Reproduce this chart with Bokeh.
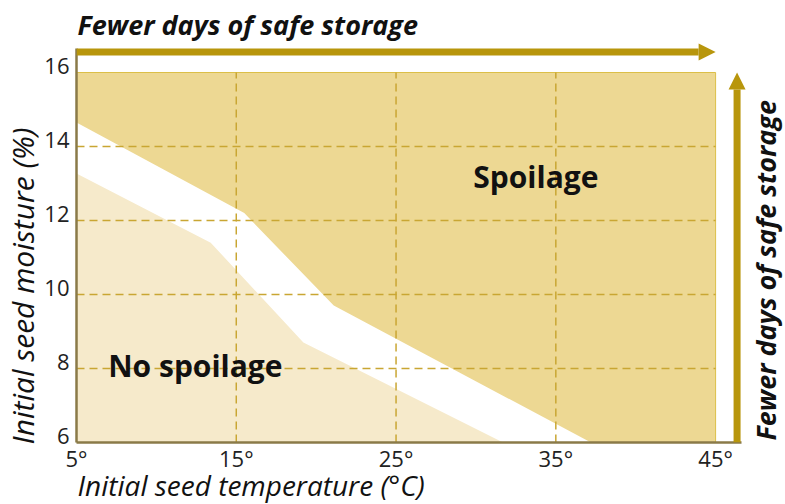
from bokeh.plotting import figure
from bokeh.models import (Range1d, FixedTicker, Label, Title, Arrow, NormalHead)
from bokeh.embed import file_html
from bokeh.resources import INLINE
import math

# ---- data ----
x_ticks = [5, 15, 25, 35, 45]
x_tick_labels = ["5°", "15°", "25°", "35°", "45°"]
y_ticks = [6, 8, 10, 12, 14, 16]

# upper edge of the safe band (spoilage above)
upper_temp = [5, 15.5, 21.1, 37.2]
upper_moist = [14.65, 12.2, 9.7, 6.0]
# upper edge of the no-spoilage region
lower_temp = [5, 13.4, 19.2, 31.7]
lower_moist = [13.27, 11.4, 8.7, 6.0]

x_lo, x_hi = 5, 45
y_lo, y_hi = 6, 16

FONT = "Open Sans"
DARK = "#edd893"
LIGHT = "#f6eacb"
GOLD = "#b8960c"
GRID = "#c9a633"
SPINE = "#8a7a48"
TEXT = "#111111"

PX_X = 16.0   # px per degree
PX_Y = 37.0   # px per % moisture
X_END = x_lo + 710 / PX_X
Y_END = y_hi + 72 / PX_Y          # frame reaches the top of the canvas
Y_SPINE_TOP = y_hi + 24 / PX_Y
LAB_SHIFT = 7 / PX_Y

p = figure(width=785, height=504, output_backend="svg", toolbar_location=None,
           x_range=Range1d(x_lo, X_END), y_range=Range1d(y_lo, Y_END),
           min_border_left=75, min_border_right=0, min_border_top=0,
           min_border_bottom=62)
p.extra_y_ranges = {"lab": Range1d(y_lo - LAB_SHIFT, Y_END - LAB_SHIFT)}
p.outline_line_color = None
p.xgrid.visible = False
p.ygrid.visible = False
p.background_fill_color = "white"
p.border_fill_color = "white"

# regions
p.quad(left=[x_lo], right=[x_hi], bottom=[y_lo], top=[y_hi],
       fill_color=DARK, line_color="#dcbf48", line_width=1)
p.patch(upper_temp + [x_lo], upper_moist + [y_lo], fill_color="white", line_color=None)
p.patch(lower_temp + [x_lo], lower_moist + [y_lo], fill_color=LIGHT, line_color=None)

# dashed grid lines
gx = x_ticks[1:-1]
gy = y_ticks[1:-1]
p.segment(x0=gx, y0=[y_lo] * len(gx), x1=gx, y1=[y_hi] * len(gx),
          line_color=GRID, line_width=1.5, line_dash="8 5")
p.segment(x0=[x_lo] * len(gy), y0=gy, x1=[x_hi] * len(gy), y1=gy,
          line_color=GRID, line_width=1.5, line_dash="8 5")

# axes
p.xaxis.ticker = FixedTicker(ticks=x_ticks)
p.xaxis.major_label_overrides = dict(zip(x_ticks, x_tick_labels))
p.xaxis.bounds = (x_lo, x_lo + 666 / PX_X)
p.yaxis.y_range_name = "lab"
p.yaxis.ticker = FixedTicker(ticks=y_ticks)
p.yaxis.bounds = (y_lo - LAB_SHIFT, Y_SPINE_TOP - LAB_SHIFT)
for ax in (p.xaxis[0], p.yaxis[0]):
    ax.axis_line_color = SPINE
    ax.axis_line_width = 2.5
    ax.major_tick_line_color = None
    ax.minor_tick_line_color = None
    ax.major_tick_out = 0
    ax.major_tick_in = 0
    ax.minor_tick_out = 0
    ax.minor_tick_in = 0
    ax.major_label_text_font = FONT
    ax.major_label_text_font_size = "22px"
    ax.major_label_text_color = "#222222"
p.xaxis.major_label_standoff = 0
p.yaxis.major_label_standoff = 7

# arrows
p.add_layout(Arrow(end=NormalHead(size=17, fill_color=GOLD, line_color=None),
                   x_start=x_lo, y_start=y_hi + 20.5 / PX_Y, x_end=x_hi, y_end=y_hi + 20.5 / PX_Y,
                   line_color=GOLD, line_width=7))
RX = x_lo + 661.5 / PX_X
p.add_layout(Arrow(end=NormalHead(size=17, fill_color=GOLD, line_color=None),
                   x_start=RX, y_start=y_lo, x_end=RX, y_end=y_hi,
                   line_color=GOLD, line_width=7))

# axis titles
p.add_layout(Title(text="Initial seed temperature (°C)", align="left", offset=1, standoff=-20,
                   vertical_align="top",
                   text_font=FONT, text_font_size="28px", text_font_style="italic",
                   text_color=TEXT), "below")
p.add_layout(Title(text="Initial seed moisture (%)", align="left", offset=-2, standoff=-2,
                   text_font=FONT, text_font_size="30px", text_font_style="italic",
                   text_color=TEXT), "left")

# in-frame labels
p.add_layout(Label(x=x_lo, y=y_hi + 48 / PX_Y, x_offset=1, text="Fewer days of safe storage",
                   text_font=FONT, text_font_size="27px", text_font_style="bold italic",
                   text_color=TEXT, text_baseline="middle", text_align="left"))
p.add_layout(Label(x=x_lo + 690 / PX_X, y=y_lo, y_offset=2, angle=math.pi / 2,
                   text="Fewer days of safe storage",
                   text_font=FONT, text_font_size="27px", text_font_style="bold italic",
                   text_color=TEXT, text_baseline="middle", text_align="left"))
p.add_layout(Label(x=33.75, y=13.19, text="Spoilage", text_align="center",
                   text_font=FONT, text_font_size="30px", text_font_style="bold",
                   text_color=TEXT, text_baseline="middle"))
p.add_layout(Label(x=12.44, y=8.07, text="No spoilage", text_align="center",
                   text_font=FONT, text_font_size="30px", text_font_style="bold",
                   text_color=TEXT, text_baseline="middle"))

open("out.html", "w").write(file_html(p, INLINE))
